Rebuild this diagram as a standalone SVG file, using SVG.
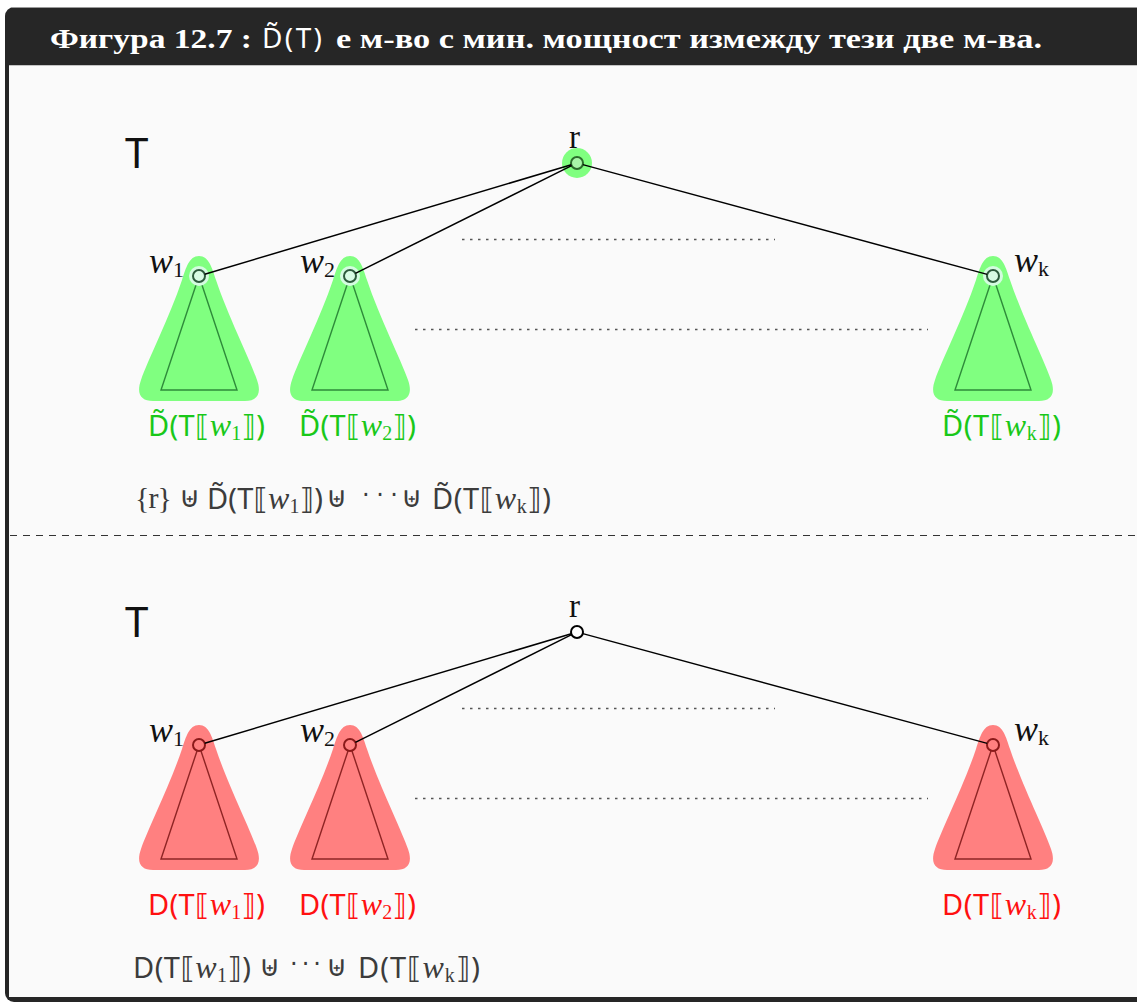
<svg xmlns="http://www.w3.org/2000/svg" width="1137" height="1003" viewBox="0 0 1137 1003">
<defs>
<style>
.title{font-family:"Liberation Serif","DejaVu Serif",serif;font-weight:bold;font-size:27px;fill:#fff}
.tsans{font-family:"Noto Sans","DejaVu Sans",sans-serif;font-size:28px;fill:#fff}
.big{font-family:"Noto Sans","DejaVu Sans",sans-serif;font-size:42px;fill:#111}
.rl{font-family:"Liberation Serif","DejaVu Serif",serif;font-size:33px;fill:#111}
.wl{font-family:"Liberation Serif","DejaVu Serif",serif;font-style:italic;font-size:36px;fill:#111}
.wsub{font-style:normal;font-size:22px}
.lbl{font-family:"Noto Sans","DejaVu Sans",sans-serif;font-size:29px}
.w{font-family:"Liberation Serif","DejaVu Serif",serif;font-style:italic;font-size:32px}
.sub{font-family:"Liberation Serif","DejaVu Serif",serif;font-style:normal;font-size:20px}
.op{font-family:"DejaVu Sans",sans-serif;font-size:29px;fill:#3c3c3c}
.dots{font-family:"DejaVu Sans",sans-serif;font-size:24px;fill:#3c3c3c}
.br{font-family:"Liberation Serif","DejaVu Serif",serif;font-size:30px;fill:#3c3c3c}
.g{fill:#19c819}
.rd{fill:#ff1010}
.ex{fill:#3c3c3c}
.edge{stroke:#000;stroke-width:1.5;fill:none}
.dot{stroke:#555;stroke-width:1.3;stroke-dasharray:2.5 5.5;fill:none}
.blobG{fill:#80ff80}
.blobR{fill:#ff8080}
.triG{fill:none;stroke:#2e8b3a;stroke-width:1.4}
.triR{fill:none;stroke:#8e2424;stroke-width:1.4}
.halo{fill:#d4fbe0}
.nG{fill:#d8fbe4;stroke:#2d5a3c;stroke-width:2}
.nR{fill:#ff8080;stroke:#8b1a1a;stroke-width:2}
.nW{fill:#fff;stroke:#000;stroke-width:2}
</style>
<path id="blob" d="M0,-20 C10,-20 13,-8 17,4 C29,40 52,86 58,104 C63,118 58,125 46,125 L-46,125 C-58,125 -63,118 -58,104 C-52,86 -29,40 -17,4 C-13,-8 -10,-20 0,-20 Z"/>
<path id="tri" d="M0,0 L-38,114 L38,114 Z"/>
</defs>

<!-- frame -->
<g id="frame">
<rect x="0" y="0" width="1137" height="1003" fill="#fff"/>
<rect x="5" y="7" width="1160" height="995" rx="9" fill="#262626"/>
<rect x="9" y="65" width="1150" height="932" fill="#fafafa"/>
<line x1="9" y1="65.5" x2="1137" y2="65.5" stroke="#c4c4c4" stroke-width="1"/>
<line x1="12" y1="7.5" x2="1137" y2="7.5" stroke="#9a9a9a" stroke-width="1"/>
<text class="title" x="50" y="48" textLength="202" lengthAdjust="spacingAndGlyphs">Фигура 12.7 :</text>
<text class="tsans" x="262" y="48" textLength="60">D&#x303;(T)</text>
<text class="title" x="336" y="48" textLength="706" lengthAdjust="spacingAndGlyphs">е м-во с мин. мощност измежду тези две м-ва.</text>
</g>

<!-- top tree -->
<g id="top-T"><text class="big" x="125" y="168">T</text></g>

<g id="top-root">
<circle cx="577" cy="163" r="15" fill="#80ff80"/>
<circle cx="577" cy="163" r="6" fill="#a8f5a8" stroke="#2b6b2b" stroke-width="2"/>
<text class="rl" x="569" y="148">r</text>
</g>

<g id="top-w1">
<use href="#blob" x="199" y="276" class="blobG"/>
<use href="#tri" x="199" y="276" class="triG"/>
<circle class="halo" cx="199" cy="276" r="10"/>
<circle class="nG" cx="199" cy="276" r="6"/>
<text class="wl" x="149" y="273">w<tspan class="wsub" dy="4">1</tspan></text>
<text class="lbl g" x="148" y="436" textLength="117">D&#x303;(T⟦<tspan class="w">w</tspan><tspan class="sub" dy="4">1</tspan><tspan dy="-4">⟧)</tspan></text>
</g>

<g id="top-w2">
<use href="#blob" x="350" y="276" class="blobG"/>
<use href="#tri" x="350" y="276" class="triG"/>
<circle class="halo" cx="350" cy="276" r="10"/>
<circle class="nG" cx="350" cy="276" r="6"/>
<text class="wl" x="300" y="273">w<tspan class="wsub" dy="4">2</tspan></text>
<text class="lbl g" x="299" y="436" textLength="117">D&#x303;(T⟦<tspan class="w">w</tspan><tspan class="sub" dy="4">2</tspan><tspan dy="-4">⟧)</tspan></text>
</g>

<g id="top-wk">
<use href="#blob" x="993" y="276" class="blobG"/>
<use href="#tri" x="993" y="276" class="triG"/>
<circle class="halo" cx="993" cy="276" r="10"/>
<circle class="nG" cx="993" cy="276" r="6"/>
<text class="wl" x="1014" y="272">w<tspan class="wsub" dy="4">k</tspan></text>
<text class="lbl g" x="942" y="436" textLength="119">D&#x303;(T⟦<tspan class="w">w</tspan><tspan class="sub" dy="4">k</tspan><tspan dy="-4">⟧)</tspan></text>
</g>

<g id="top-expr">
<text class="br" x="135" y="508" textLength="37">{r}</text>
<text class="op" x="179" y="507">⊎</text>
<text class="lbl ex" x="207" y="509" textLength="116">D&#x303;(T⟦<tspan class="w">w</tspan><tspan class="sub" dy="4">1</tspan><tspan dy="-4">⟧)</tspan></text>
<text class="op" x="326" y="507">⊎</text>
<text class="dots" x="362" y="503" textLength="36">· · ·</text>
<text class="op" x="401" y="507">⊎</text>
<text class="lbl ex" x="432" y="509" textLength="119">D&#x303;(T⟦<tspan class="w">w</tspan><tspan class="sub" dy="4">k</tspan><tspan dy="-4">⟧)</tspan></text>
</g>

<line id="separator" x1="10" y1="535.5" x2="1137" y2="535.5" stroke="#333" stroke-width="1.2" stroke-dasharray="7 6"/>

<!-- bottom tree -->
<g id="bot-T"><text class="big" x="125" y="637">T</text></g>

<g id="bot-root">
<circle class="nW" cx="577" cy="632" r="6"/>
<text class="rl" x="569" y="617">r</text>
</g>

<g id="bot-w1">
<use href="#blob" x="199" y="745" class="blobR"/>
<use href="#tri" x="199" y="745" class="triR"/>
<circle class="nR" cx="199" cy="745" r="6"/>
<text class="wl" x="149" y="742">w<tspan class="wsub" dy="4">1</tspan></text>
<text class="lbl rd" x="148" y="915" textLength="117">D(T⟦<tspan class="w">w</tspan><tspan class="sub" dy="4">1</tspan><tspan dy="-4">⟧)</tspan></text>
</g>

<g id="bot-w2">
<use href="#blob" x="350" y="745" class="blobR"/>
<use href="#tri" x="350" y="745" class="triR"/>
<circle class="nR" cx="350" cy="745" r="6"/>
<text class="wl" x="300" y="742">w<tspan class="wsub" dy="4">2</tspan></text>
<text class="lbl rd" x="299" y="915" textLength="117">D(T⟦<tspan class="w">w</tspan><tspan class="sub" dy="4">2</tspan><tspan dy="-4">⟧)</tspan></text>
</g>

<g id="bot-wk">
<use href="#blob" x="993" y="745" class="blobR"/>
<use href="#tri" x="993" y="745" class="triR"/>
<circle class="nR" cx="993" cy="745" r="6"/>
<text class="wl" x="1014" y="741">w<tspan class="wsub" dy="4">k</tspan></text>
<text class="lbl rd" x="942" y="915" textLength="119">D(T⟦<tspan class="w">w</tspan><tspan class="sub" dy="4">k</tspan><tspan dy="-4">⟧)</tspan></text>
</g>

<g id="bot-expr">
<text class="lbl ex" x="133" y="978" textLength="118">D(T⟦<tspan class="w">w</tspan><tspan class="sub" dy="4">1</tspan><tspan dy="-4">⟧)</tspan></text>
<text class="op" x="259" y="976">⊎</text>
<text class="dots" x="290" y="972" textLength="31">· · ·</text>
<text class="op" x="326" y="976">⊎</text>
<text class="lbl ex" x="358" y="978" textLength="122">D(T⟦<tspan class="w">w</tspan><tspan class="sub" dy="4">k</tspan><tspan dy="-4">⟧)</tspan></text>
</g>

<!-- connectors -->
<g id="connectors">
<line class="edge" x1="571.3" y1="164.7" x2="204.7" y2="274.3"/>
<line class="edge" x1="571.6" y1="165.7" x2="355.4" y2="273.3"/>
<line class="edge" x1="582.8" y1="164.6" x2="987.2" y2="274.4"/>
<line class="dot" x1="462" y1="239.5" x2="775" y2="239.5"/>
<line class="dot" x1="415" y1="329.5" x2="928" y2="329.5"/>
<line class="edge" x1="571.3" y1="633.7" x2="204.7" y2="743.3"/>
<line class="edge" x1="571.6" y1="634.7" x2="355.4" y2="742.3"/>
<line class="edge" x1="582.8" y1="633.6" x2="987.2" y2="743.4"/>
<line class="dot" x1="462" y1="708.5" x2="775" y2="708.5"/>
<line class="dot" x1="415" y1="798.5" x2="928" y2="798.5"/>
</g>
</svg>
